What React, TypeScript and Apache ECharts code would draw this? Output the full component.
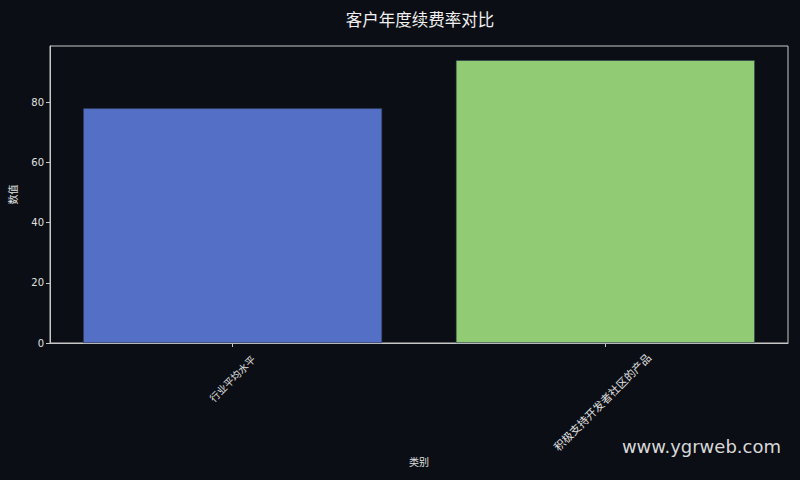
import React, { useEffect, useRef } from 'react';
import * as echarts from 'echarts';

const categories = ['行业平均水平', '积极支持开发者社区的产品'];
const values = [78, 94];
const barColors = ['#5470c6', '#91cc75'];
const yTicks = [0, 20, 40, 60, 80];

const FONT = '"DejaVu Sans", "Noto Sans CJK SC", sans-serif';

const App: React.FC = () => {
  const chartRef = useRef<HTMLDivElement>(null);

  useEffect(() => {
    if (!chartRef.current) return;
    const chart = echarts.init(chartRef.current, undefined, { renderer: 'svg' });
    chart.setOption({
      animation: false,
      backgroundColor: '#0b0e15',
      textStyle: { fontFamily: FONT },
      title: {
        text: '客户年度续费率对比',
        left: 415,
        textAlign: 'center',
        top: 7,
        textStyle: { color: '#f0f0f0', fontSize: 16.5, fontWeight: 'normal', fontFamily: FONT },
      },
      grid: {
        left: 47,
        right: 12,
        top: 46,
        bottom: 137,
        show: true,
        borderColor: '#c8c8c8',
        borderWidth: 1,
        backgroundColor: 'transparent',
      },
      xAxis: {
        type: 'value',
        min: -0.49,
        max: 1.49,
        name: '类别',
        nameLocation: 'middle',
        nameGap: 114,
        nameMoveOverlap: false,
        nameTextStyle: { color: '#e0e0e0', fontSize: 10 },
        axisLine: { lineStyle: { color: '#c8c8c8', width: 1 } },
        axisTick: { show: true, customValues: [0, 1], length: 4, lineStyle: { color: '#c8c8c8' } },
        axisLabel: {
          customValues: [0, 1],
          rotate: 45,
          align: 'center',
          verticalAlign: 'middle',
          color: '#e0e0e0',
          fontSize: 10,
          margin: 36,
          formatter: (v: number) => (v === 0 ? `{a|${categories[0]}}` : `{b|${categories[1]}}`),
          rich: {
            a: { color: '#e0e0e0', fontSize: 10 },
            b: { color: '#e0e0e0', fontSize: 11, padding: [30, 37, 0, 0] },
          },
        },
        splitLine: { show: false },
      },
      yAxis: {
        type: 'value',
        min: 0,
        max: 98.7,
        interval: 20,
        name: '数值',
        nameLocation: 'middle',
        nameGap: 32,
        nameTextStyle: { color: '#e0e0e0', fontSize: 10 },
        axisLine: { show: true, onZero: false, lineStyle: { color: '#c8c8c8', width: 1 } },
        axisTick: { show: true, length: 4, lineStyle: { color: '#c8c8c8' } },
        axisLabel: {
          color: '#e0e0e0',
          fontSize: 10,
          margin: 6,
          showMaxLabel: false,
          formatter: (v: number) => (yTicks.includes(v) ? String(v) : ''),
        },
        splitLine: { show: false },
      },
      series: [
        {
          type: 'bar',
          barWidth: 299,
          data: values.map((v, i) => ({
            value: [i, v],
            itemStyle: { color: barColors[i], borderColor: '#2a3550', borderWidth: 0.6 },
          })),
        },
      ],
      graphic: [
        {
          type: 'text',
          right: 19,
          top: 437,
          style: { text: 'www.ygrweb.com', fill: '#d8d8d8', fontSize: 18, fontFamily: FONT },
        },
      ],
    });
    return () => chart.dispose();
  }, []);

  return (
    <div
      ref={chartRef}
      style={{ position: 'fixed', left: 0, top: 0, width: '800px', height: '480px' }}
    />
  );
};

export default App;
